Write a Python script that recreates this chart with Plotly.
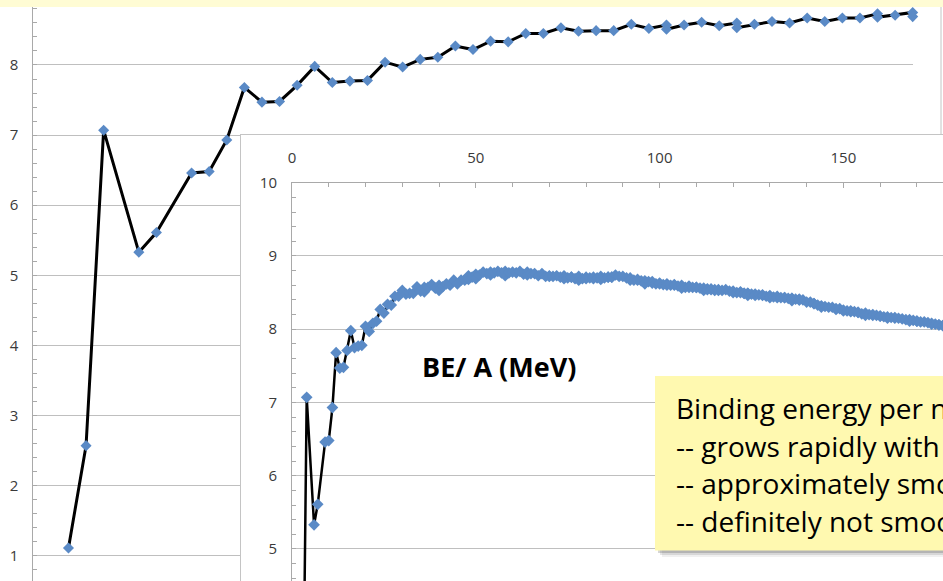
import plotly.graph_objects as go

W, H = 943, 581

# ---------------- data ----------------
A_light = [2, 3, 4, 6, 7, 9, 10, 11, 12, 13, 14, 15, 16, 17, 18, 19, 20, 21, 22, 23,
           24, 25, 26, 27, 28, 29, 30, 31, 32, 33, 34, 35, 36, 36, 37, 38, 39, 40, 40,
           41, 42, 43, 44, 45, 46, 47, 48, 48, 49, 50, 50]
BE_light = [1.11, 2.57, 7.07, 5.33, 5.61, 6.46, 6.48, 6.93, 7.68, 7.47, 7.48, 7.71, 7.98,
            7.75, 7.77, 7.78, 8.04, 7.97, 8.08, 8.11, 8.27, 8.22, 8.34, 8.33, 8.45, 8.45,
            8.53, 8.48, 8.49, 8.49, 8.58, 8.52, 8.57, 8.51, 8.57, 8.61, 8.56, 8.60, 8.53,
            8.58, 8.62, 8.60, 8.67, 8.62, 8.67, 8.67, 8.73, 8.68, 8.71, 8.75, 8.69]

A_heavy = [51, 52, 53, 54, 54, 55, 56, 57, 58, 58, 59, 60, 61, 62, 63, 64, 64, 65, 66, 67,
           68, 69, 70, 70, 71, 72, 73, 74, 74, 75, 76, 76, 77, 78, 78, 79, 80, 80, 81, 82,
           82, 83, 84, 84, 85, 86, 86, 87, 87, 88, 89, 90, 91, 92, 92, 93, 94, 94, 95, 96,
           96, 96, 97, 98, 98, 99, 100, 100, 101, 102, 102, 103, 104, 104, 105, 106, 106,
           107, 108, 108, 109, 110, 110, 111, 112, 112, 113, 113, 114, 114, 115, 115, 116,
           116, 117, 118, 119, 120, 120, 121, 122, 122, 123, 123, 124, 124, 124, 125, 126,
           126, 127, 128, 128, 129, 130, 130, 130, 131, 132, 132, 133, 134, 134, 135, 136,
           136, 136, 137, 138, 138, 138, 139, 140, 141, 142, 142, 143, 144, 144, 145, 146,
           147, 148, 148, 149, 150, 150, 151, 152, 152, 153, 154, 154, 155, 156, 156, 157,
           158, 158, 159, 160, 160, 161, 162, 162, 163, 164, 164, 165, 166, 167, 168, 168,
           169, 170, 170, 171, 172, 173, 174, 174, 175, 176, 176, 177, 178, 179, 180]
BE_heavy = [8.74, 8.78, 8.76, 8.74, 8.78, 8.77, 8.79, 8.77, 8.73, 8.79, 8.77, 8.78, 8.77,
            8.79, 8.75, 8.78, 8.74, 8.76, 8.76, 8.73, 8.76, 8.72, 8.73, 8.72, 8.72, 8.73,
            8.71, 8.73, 8.69, 8.70, 8.71, 8.71, 8.69, 8.72, 8.67, 8.69, 8.71, 8.69, 8.70,
            8.69, 8.71, 8.70, 8.72, 8.68, 8.70, 8.71, 8.71, 8.71, 8.71, 8.74, 8.72, 8.72,
            8.70, 8.70, 8.67, 8.67, 8.68, 8.67, 8.66, 8.65, 8.66, 8.62, 8.65, 8.65, 8.63,
            8.62, 8.62, 8.63, 8.61, 8.62, 8.60, 8.60, 8.61, 8.60, 8.59, 8.60, 8.56, 8.57,
            8.59, 8.57, 8.57, 8.57, 8.57, 8.56, 8.56, 8.53, 8.55, 8.54, 8.55, 8.54, 8.54,
            8.53, 8.53, 8.54, 8.53, 8.54, 8.52, 8.52, 8.50, 8.50, 8.51, 8.50, 8.49, 8.49,
            8.49, 8.49, 8.46, 8.48, 8.48, 8.46, 8.47, 8.47, 8.46, 8.45, 8.45, 8.46, 8.43,
            8.44, 8.45, 8.43, 8.43, 8.43, 8.43, 8.42, 8.42, 8.42, 8.39, 8.41, 8.41, 8.40,
            8.40, 8.40, 8.37, 8.37, 8.35, 8.35, 8.33, 8.32, 8.30, 8.31, 8.30, 8.30, 8.28,
            8.27, 8.28, 8.26, 8.25, 8.25, 8.25, 8.24, 8.24, 8.23, 8.23, 8.21, 8.22, 8.19,
            8.20, 8.20, 8.19, 8.19, 8.18, 8.18, 8.17, 8.17, 8.15, 8.16, 8.16, 8.15, 8.15,
            8.14, 8.13, 8.13, 8.11, 8.12, 8.11, 8.11, 8.10, 8.10, 8.09, 8.08, 8.07, 8.07,
            8.06, 8.06, 8.05, 8.05, 8.04, 8.04]

main_y_ticks = [1, 2, 3, 4, 5, 6, 7, 8]
inset_x_ticks = [0, 50, 100, 150]
inset_x_labels = ["0", "50", "100", "150"]
inset_y_ticks = [5, 6, 7, 8, 9, 10]
inset_y_labels = ["5", "6", "7", "8", "9", "10"]

chart_label = "BE/ A (MeV)"
note_lines = ["Binding energy per nucleon",
              "-- grows rapidly with A",
              "-- approximately smooth",
              "-- definitely not smooth"]

# ---------------- helpers ----------------
def fx(px):
    return px / W


def fy(py):
    return 1 - py / H


BLUE = "#5A8AC6"
GRID = "#BFBFBF"
AXIS = "#A9A9A9"
FRAME = "#C4C4C4"
TICKFONT = dict(family="Open Sans", size=15, color="#3A3A3A")

fig = go.Figure()

# main (background) chart
fig.add_trace(go.Scatter(
    x=A_light, y=BE_light, mode="lines+markers",
    line=dict(color="black", width=3),
    marker=dict(symbol="diamond", size=8.5, color=BLUE, line=dict(width=0)),
    cliponaxis=False, xaxis="x", yaxis="y", showlegend=False, hoverinfo="skip"))

# opaque frame of the inset chart
fig.add_trace(go.Scatter(x=[None], y=[None], xaxis="x2", yaxis="y2",
                         showlegend=False, hoverinfo="skip"))

# inset chart
fig.add_trace(go.Scatter(
    x=A_light + A_heavy, y=BE_light + BE_heavy, mode="lines+markers",
    line=dict(color="black", width=2.5),
    marker=dict(symbol="diamond", size=9, color=BLUE, line=dict(width=0)),
    xaxis="x3", yaxis="y3", showlegend=False, hoverinfo="skip"))

shapes = [
    # right border of the main chart
    dict(type="line", xref="paper", yref="paper", x0=fx(941), x1=fx(941),
         y0=fy(0), y1=fy(135), line=dict(color=FRAME, width=1), layer="above"),
    # pale yellow strip at the top
    dict(type="rect", xref="paper", yref="paper", x0=0, x1=1, y0=fy(7), y1=1,
         fillcolor="#FFFCD4", line=dict(width=0), layer="above"),
]
# soft shadow of the note box
for dx, alpha in [(7, 0.06), (5, 0.10), (3, 0.16)]:
    shapes.append(dict(type="rect", xref="paper", yref="paper",
                       x0=fx(655 + dx), x1=fx(990), y0=fy(376 + dx), y1=fy(550 + dx),
                       fillcolor="rgba(0,0,0,%.2f)" % alpha, line=dict(width=0),
                       layer="above"))
shapes.append(dict(type="rect", xref="paper", yref="paper",
                   x0=fx(655), x1=fx(990), y0=fy(376), y1=fy(550.5),
                   fillcolor="#FFF9B0", line=dict(width=0), layer="above"))

annotations = [
    dict(text="<b>%s</b>" % chart_label, xref="paper", yref="paper",
         x=fx(499), y=fy(366.5), xanchor="center", yanchor="middle", showarrow=False,
         font=dict(family="Open Sans", size=27, color="black")),
]
for i, t in enumerate(note_lines):
    annotations.append(dict(text=t, xref="paper", yref="paper",
                            x=fx(674), y=fy(408 + i * 37.5), xanchor="left",
                            yanchor="middle", showarrow=False,
                            font=dict(family="Open Sans", size=28, color="black")))

fig.update_layout(
    width=W, height=H, margin=dict(l=0, r=0, t=0, b=0, pad=0, autoexpand=False),
    paper_bgcolor="white", plot_bgcolor="white", showlegend=False,
    xaxis=dict(domain=[fx(33.3), fx(912.7)], range=[0, 50], anchor="y",
               automargin=False,
               showgrid=False, zeroline=False, showline=False,
               showticklabels=False, ticks=""),
    yaxis=dict(domain=[0, 1], range=[0.639, 8.927], anchor="x", automargin=False,
               tickmode="array", tickvals=main_y_ticks,
               ticktext=[str(v) for v in main_y_ticks],
               showgrid=True, gridcolor=GRID, gridwidth=1, zeroline=False,
               showline=True, linecolor=AXIS, linewidth=1,
               ticks="inside", ticklen=4, tickcolor=AXIS,
               minor=dict(tickmode="linear", tick0=0, dtick=0.2, ticks="inside",
                          ticklen=4, tickcolor=AXIS, showgrid=False),
               tickfont=TICKFONT, ticklabelstandoff=11),
    xaxis2=dict(domain=[fx(241), 1], range=[0, 1], anchor="y2", side="top",
                automargin=False,
                showgrid=False, zeroline=False, showline=True, linecolor=FRAME,
                linewidth=1, showticklabels=False, ticks=""),
    yaxis2=dict(domain=[0, fy(135)], range=[0, 1], anchor="x2", side="left",
                automargin=False,
                showgrid=False, zeroline=False, showline=True, linecolor=FRAME,
                linewidth=1, showticklabels=False, ticks=""),
    xaxis3=dict(domain=[fx(292), 1], range=[0, 177.1], anchor="y3", side="top",
                automargin=False,
                tickmode="array", tickvals=inset_x_ticks, ticktext=inset_x_labels,
                showgrid=False, zeroline=False, showline=True, linecolor=AXIS,
                linewidth=1, ticks="inside", ticklen=5, tickcolor=AXIS,
                minor=dict(tickmode="linear", tick0=0, dtick=10, ticks="inside",
                           ticklen=4, tickcolor=AXIS, showgrid=False),
                tickfont=TICKFONT, ticklabelstandoff=13),
    yaxis3=dict(domain=[0, fy(182.7)], range=[4.563, 10], anchor="x3",
                automargin=False,
                tickmode="array", tickvals=inset_y_ticks, ticktext=inset_y_labels,
                showgrid=True, gridcolor=GRID, gridwidth=1, zeroline=False,
                showline=True, linecolor=AXIS, linewidth=1,
                ticks="inside", ticklen=4, tickcolor=AXIS,
                minor=dict(tickmode="linear", tick0=0, dtick=0.2, ticks="inside",
                           ticklen=4, tickcolor=AXIS, showgrid=False),
                tickfont=TICKFONT, ticklabelstandoff=11),
    shapes=shapes, annotations=annotations,
)

fig.write_html("out.html",
               config={"displayModeBar": False, "responsive": False},
               post_script="document.body.style.margin='0px';"
                           "document.body.style.overflow='hidden';")
